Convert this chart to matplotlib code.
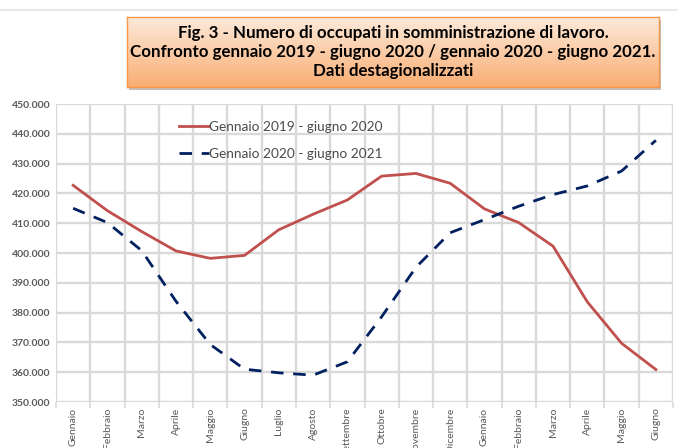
import numpy as np
import matplotlib
matplotlib.use("Agg")
import matplotlib.pyplot as plt
from matplotlib.patches import Rectangle
from matplotlib.lines import Line2D

# ── data ──────────────────────────────────────────────────────────────────────
MONTHS = ["Gennaio", "Febbraio", "Marzo", "Aprile", "Maggio", "Giugno",
          "Luglio", "Agosto", "Settembre", "Ottobre", "Novembre", "Dicembre",
          "Gennaio", "Febbraio", "Marzo", "Aprile", "Maggio", "Giugno"]

S1_LABEL = "Gennaio 2019 - giugno 2020"
S1 = [422.7, 414.2, 407.2, 400.7, 398.2, 399.2, 407.8, 413.0, 417.8,
      425.8, 426.7, 423.4, 414.8, 410.2, 402.3, 383.6, 369.7, 360.9]

S2_LABEL = "Gennaio 2020 - giugno 2021"
S2 = [415.0, 410.2, 400.8, 383.8, 369.3, 361.0, 359.8, 359.0, 363.5,
      378.6, 395.2, 406.8, 411.2, 415.7, 419.6, 422.5, 427.5, 437.8]

Y_TICKS = [350, 360, 370, 380, 390, 400, 410, 420, 430, 440, 450]

TITLE = ("Fig. 3 - Numero di occupati in somministrazione di lavoro.\n"
         "Confronto gennaio 2019 - giugno 2020 / gennaio 2020 - giugno 2021.\n"
         "Dati destagionalizzati")

# ── style ─────────────────────────────────────────────────────────────────────
C_RED  = "#C0504D"
C_BLUE = "#002060"
C_GRID = "#D9D9D9"
C_TXT  = "#595959"
FONT   = ["Lato", "DejaVu Sans"]

W, H = 678, 448
fig = plt.figure(figsize=(W / 100, H / 100), dpi=100, facecolor="white")

def fx(px):
    return px / W

def fy(py):
    return 1 - py / H

# top border of chart area
fig.add_artist(Line2D([0, 1], [fy(10.5), fy(10.5)], color="#E4E4E4", lw=1.2,
                      transform=fig.transFigure))

# ── plot area ─────────────────────────────────────────────────────────────────
L, R, T, B = 56, 673, 104, 402
ax = fig.add_axes([fx(L), fy(B), fx(R - L), (B - T) / H])
x = np.arange(len(MONTHS))
ax.set_xlim(-0.5, len(MONTHS) - 0.5)
ax.set_ylim(Y_TICKS[0], Y_TICKS[-1])

for b in np.arange(-0.5, len(MONTHS), 1.0):
    ax.axvline(b, color=C_GRID, lw=1.7, zorder=0)
for yt in Y_TICKS:
    ax.axhline(yt, color=C_GRID, lw=1.7, zorder=0)

ax.plot(x, S1, color=C_RED, lw=2.0, label=S1_LABEL, zorder=3)
ax.plot(x, S2, color=C_BLUE, lw=2.0, ls=(0, (4.5, 3.5)), label=S2_LABEL, zorder=3)

for s in ax.spines.values():
    s.set_visible(False)

ax.set_yticks(Y_TICKS)
ax.set_yticklabels([f"{v}.000" for v in Y_TICKS], fontsize=7.5,
                   fontweight="bold", color=C_TXT, family=FONT)
ax.tick_params(axis="y", length=0, pad=4)

ax.set_xticks(x)
ax.set_xticklabels(MONTHS, rotation=90, fontsize=7.5, color=C_TXT, family=FONT,
                   va="top", ha="center")
ax.tick_params(axis="x", length=0, pad=4)
ax.set_xticks(np.arange(-0.5, len(MONTHS), 1.0), minor=True)
ax.tick_params(axis="x", which="minor", length=4, color=C_GRID, width=1.2)

leg = ax.legend(loc="upper left", bbox_to_anchor=(0.18, 0.985), frameon=False,
                handlelength=2.2, handletextpad=0.0, labelspacing=1.1,
                prop={"family": FONT, "size": 9.8})
for t in leg.get_texts():
    t.set_color("#4A4A4A")

# ── title box with gradient ───────────────────────────────────────────────────
bx0, bx1, by0, by1 = 127, 659, 17, 87
shadow = Rectangle((fx(bx0 + 2), fy(by1 + 3)), fx(bx1 - bx0), (by1 - by0) / H,
                   transform=fig.transFigure, facecolor="#BFBFBF",
                   edgecolor="none", zorder=1)
fig.add_artist(shadow)
tax = fig.add_axes([fx(bx0), fy(by1), fx(bx1 - bx0), (by1 - by0) / H], zorder=2)
grad = np.linspace(0, 1, 100).reshape(-1, 1)
c_top = np.array([0xFD, 0xEA, 0xDA]) / 255
c_bot = np.array([0xF9, 0xAE, 0x74]) / 255
img = c_top[None, None, :] * (1 - grad[:, :, None]) + c_bot[None, None, :] * grad[:, :, None]
tax.imshow(img, aspect="auto", extent=[0, 1, 0, 1], origin="upper")
tax.set_xticks([])
tax.set_yticks([])
for s in tax.spines.values():
    s.set_color("#F79646")
    s.set_linewidth(1.0)
tax.text(0.5, 0.5, TITLE, ha="center", va="center", fontsize=12.2,
         fontweight="bold", color="black", family=FONT, linespacing=1.25,
         transform=tax.transAxes)

fig.savefig("out.png", dpi=100, facecolor="white")
plt.close(fig)
